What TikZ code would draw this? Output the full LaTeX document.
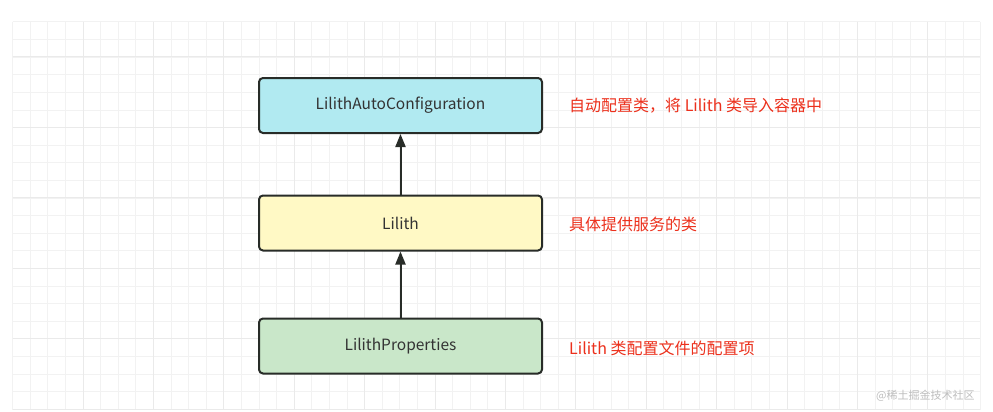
\documentclass[tikz,border=0pt]{standalone}
\usepackage{fontspec}
\setmainfont{Noto Sans CJK SC}
\newfontfamily\cjk{Noto Sans CJK SC}
\usetikzlibrary{arrows.meta}
\definecolor{gridminor}{RGB}{242,242,242}
\definecolor{gridmajor}{RGB}{234,234,234}
\definecolor{boxline}{RGB}{40,44,40}
\definecolor{cyanfill}{RGB}{177,234,241}
\definecolor{yellowfill}{RGB}{255,249,197}
\definecolor{greenfill}{RGB}{201,231,201}
\definecolor{notered}{RGB}{236,48,28}
\definecolor{boxtext}{RGB}{51,51,51}
\definecolor{wmgrey}{RGB}{190,190,190}
\tikzset{
  classbox/.style={draw=boxline, line width=2pt, rounded corners=4pt,
    minimum width=283pt, minimum height=55pt, inner sep=0pt,
    text=boxtext, font=\cjk\fontsize{15.5}{18}\selectfont},
  note/.style={anchor=west, inner sep=0pt, text=notered,
    font=\cjk\fontsize{16}{19}\selectfont},
  link/.style={draw=boxline, line width=2pt,
    -{Triangle[length=13pt,width=10pt]}}
}
\begin{document}
\begin{tikzpicture}[x=1pt,y=-1pt]
\useasboundingbox (0,0) rectangle (993,412);
\fill[white] (0,0) rectangle (993,412);
% grid
\foreach \i in {0,...,55} {
  \draw[gridminor, line width=1pt] ({12.6+17.6*\i},22) -- ({12.6+17.6*\i},410);
}
\foreach \j in {0,...,22} {
  \draw[gridminor, line width=1pt] (12.6,{22+17.6*\j}) -- (980,{22+17.6*\j});
}
\foreach \i in {0,...,13} {
  \draw[gridmajor, line width=1pt] ({83+70.4*\i},22) -- ({83+70.4*\i},410);
}
\foreach \j in {0,...,5} {
  \draw[gridmajor, line width=1pt] (12.6,{57+70.4*\j}) -- (980,{57+70.4*\j});
}
% boxes
\node[classbox, fill=cyanfill] (auto) at (400.5,105.5) {\raisebox{-1pt}{LilithAutoConfiguration}};
\node[classbox, fill=yellowfill] (lilith) at (400.5,223) {\raisebox{-1pt}{Lilith}};
\node[classbox, fill=greenfill] (props) at (400.5,346) {\raisebox{-1pt}{LilithProperties}};
% arrows
\draw[link] (props.north) -- (lilith.south);
\draw[link] (lilith.north) -- (auto.south);
% notes
\node[note] (n1) at (569,106) {自动配置类，将 Lilith 类导入容器中};
\node[note] (n2) at (569,224) {具体提供服务的类};
\node[note] (n3) at (569,348) {Lilith 类配置文件的配置项};
% watermark
\node[anchor=west, inner sep=0pt, text=wmgrey, font=\cjk\fontsize{11}{13}\selectfont] (wm) at (876,396) {@稀土掘金技术社区};
\end{tikzpicture}
\end{document}
